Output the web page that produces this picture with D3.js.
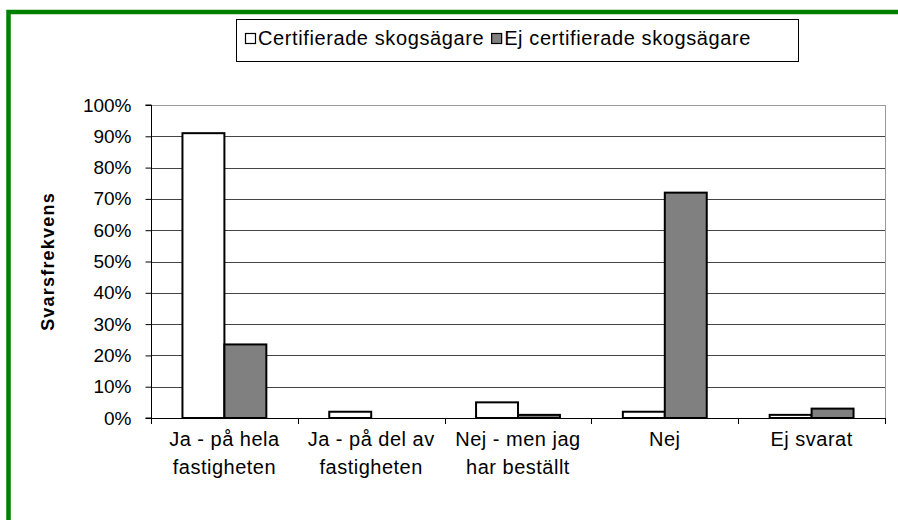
<!DOCTYPE html>
<html>
<head>
<meta charset="utf-8">
<script src="https://cdn.jsdelivr.net/npm/d3@7"></script>
<style>
  html, body { margin: 0; padding: 0; background: #fff; }
  svg { display: block; font-family: "Liberation Sans", Arial, sans-serif; }
</style>
</head>
<body>
<svg id="chart" width="898" height="520"></svg>
<script>
// data
var categories = [["Ja - på hela", "fastigheten"], ["Ja - på del av", "fastigheten"], ["Nej - men jag", "har beställt"], ["Nej"], ["Ej svarat"]];
var seriesNames = ["Certifierade skogsägare", "Ej certifierade skogsägare"];
var certifierade = [0.91, 0.02, 0.05, 0.02, 0.01];
var ejCertifierade = [0.235, 0, 0.01, 0.72, 0.03];
var yTicks = [0, 0.1, 0.2, 0.3, 0.4, 0.5, 0.6, 0.7, 0.8, 0.9, 1];
var seriesFill = ["#ffffff", "#808080"];

var svg = d3.select("#chart");

// green frame (runs off the right and bottom)
svg.append("rect")
  .attr("x", 8.5).attr("y", 12)
  .attr("width", 1000).attr("height", 1000)
  .attr("fill", "none")
  .attr("stroke", "#008000")
  .attr("stroke-width", 4.5);

var pLeft = 151, pRight = 885, pTop = 105, pBottom = 418;

var y = d3.scaleLinear().domain([0, 1]).range([pBottom, pTop]);
var keys = categories.map(function(c, i) { return "c" + i; });
var x = d3.scaleBand().domain(keys).range([pLeft, pRight]);
var xs = d3.scaleBand().domain([0, 1]).range([0, x.bandwidth()]).paddingOuter(0.75);

// gridlines
svg.append("g").selectAll("line")
  .data(yTicks.slice(1))
  .join("line")
  .attr("x1", pLeft).attr("x2", pRight)
  .attr("y1", function(d) { return Math.round(y(d)) + 0.5; })
  .attr("y2", function(d) { return Math.round(y(d)) + 0.5; })
  .attr("stroke", function(d) { return d === 1 ? "#999" : "#444"; })
  .attr("stroke-width", 1);

// right border of the plot area
svg.append("line")
  .attr("x1", pRight + 0.5).attr("x2", pRight + 0.5)
  .attr("y1", pTop).attr("y2", pBottom)
  .attr("stroke", "#999");

// bars
var rows = keys.map(function(k, i) { return { key: k, idx: i, vals: [certifierade[i], ejCertifierade[i]] }; });
var groups = svg.append("g").selectAll("g")
  .data(rows)
  .join("g")
  .attr("transform", function(d) { return "translate(" + x(d.key) + ",0)"; });

groups.selectAll("rect")
  .data(function(d) { return d.vals.map(function(v, j) { return { v: v, j: j }; }).filter(function(e) { return e.v > 0; }); })
  .join("rect")
  .attr("x", function(d) { return xs(d.j); })
  .attr("y", function(d) { return y(d.v); })
  .attr("width", xs.bandwidth())
  .attr("height", function(d) { return pBottom - y(d.v); })
  .attr("fill", function(d) { return seriesFill[d.j]; })
  .attr("stroke", "#000")
  .attr("stroke-width", 2);

// y axis
var yAxis = d3.axisLeft(y)
  .tickValues(yTicks)
  .tickFormat(d3.format(".0%"))
  .tickSize(6)
  .tickPadding(14);
var gy = svg.append("g")
  .attr("transform", "translate(" + (pLeft + 0.5) + ",0)")
  .call(yAxis);
gy.select(".domain").attr("stroke", "#000").attr("d", "M-6," + pBottom + "H0V" + pTop + "H-6");
gy.selectAll(".tick line").attr("stroke", "#000");
gy.selectAll(".tick text")
  .attr("font-size", 19)
  .attr("fill", "#000")
  .attr("font-family", "Liberation Sans, Arial, sans-serif");

// x axis line + category separators
svg.append("line")
  .attr("x1", pLeft).attr("x2", pRight + 1)
  .attr("y1", pBottom + 0.5).attr("y2", pBottom + 0.5)
  .attr("stroke", "#000");
svg.append("g").selectAll("line")
  .data(keys.concat(["end"]))
  .join("line")
  .attr("x1", function(d) { return Math.round(d === "end" ? pRight : x(d)) + 0.5; })
  .attr("x2", function(d) { return Math.round(d === "end" ? pRight : x(d)) + 0.5; })
  .attr("y1", pBottom).attr("y2", pBottom + 6)
  .attr("stroke", "#000");

// category labels
svg.append("g").selectAll("text")
  .data(rows)
  .join("text")
  .attr("text-anchor", "middle")
  .attr("font-size", 20)
  .attr("letter-spacing", 0.5)
  .attr("fill", "#000")
  .attr("y", 446)
  .each(function(d) {
    var cx = x(d.key) + x.bandwidth() / 2;
    d3.select(this).selectAll("tspan")
      .data(categories[d.idx])
      .join("tspan")
      .attr("x", cx)
      .attr("dy", function(t, i) { return i === 0 ? 0 : 28; })
      .text(function(t) { return t; });
  });

// y axis title
svg.append("text")
  .attr("transform", "translate(54," + ((pTop + pBottom) / 2) + ") rotate(-90)")
  .attr("text-anchor", "middle")
  .attr("font-size", 18)
  .attr("letter-spacing", 1.2)
  .attr("font-weight", "bold")
  .attr("fill", "#000")
  .text("Svarsfrekvens");

// legend
var legend = svg.append("g");
legend.append("rect")
  .attr("x", 236.5).attr("y", 19.5)
  .attr("width", 562).attr("height", 42)
  .attr("fill", "#fff")
  .attr("stroke", "#000");
var lx = 245;
seriesNames.forEach(function(name, i) {
  legend.append("rect")
    .attr("x", lx + 0.5).attr("y", 33.5)
    .attr("width", 10).attr("height", 10)
    .attr("fill", seriesFill[i])
    .attr("stroke", "#000")
    .attr("stroke-width", 1.2);
  var t = legend.append("text")
    .attr("x", lx + 13).attr("y", 45)
    .attr("font-size", 20)
    .attr("letter-spacing", 0.6)
    .attr("fill", "#000")
    .text(name);
  lx = lx + 13 + t.node().getComputedTextLength() + 7;
});
</script>
</body>
</html>
